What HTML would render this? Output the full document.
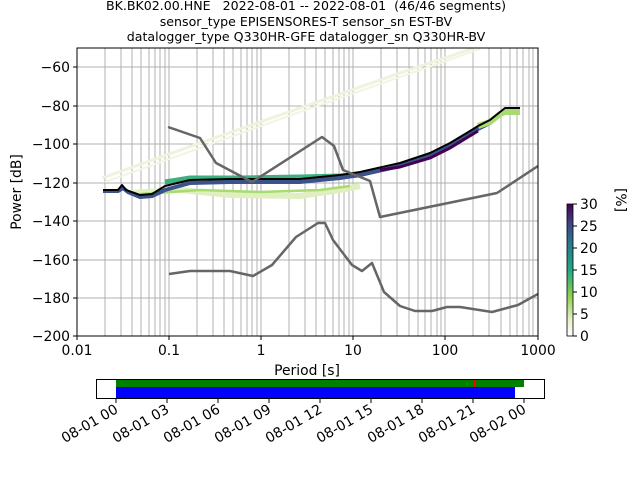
<!DOCTYPE html>
<html><head><meta charset="utf-8"><style>
html,body{margin:0;padding:0;background:#fff;}
svg{display:block;font-family:"DejaVu Sans","Liberation Sans",sans-serif;}
.t{white-space:pre;}
</style></head><body>
<svg width="640" height="480" viewBox="0 0 640 480" xmlns="http://www.w3.org/2000/svg">
<defs>
<linearGradient id="vir" x1="0" y1="1" x2="0" y2="0">
<stop offset="0" stop-color="#ffffff"/>
<stop offset="0.12" stop-color="#e8f0c8"/>
<stop offset="0.3" stop-color="#90d050"/>
<stop offset="0.5" stop-color="#22a884"/>
<stop offset="0.7" stop-color="#2a788e"/>
<stop offset="0.85" stop-color="#414487"/>
<stop offset="1" stop-color="#440154"/>
</linearGradient>
<clipPath id="pc"><rect x="77" y="48" width="461" height="288"/></clipPath>
</defs>
<g font-size="12.6" fill="#000" text-anchor="middle">
<text class="t" x="306" y="10" xml:space="preserve">BK.BK02.00.HNE   2022-08-01 -- 2022-08-01  (46/46 segments)</text>
<text x="306" y="26">sensor_type EPISENSORES-T sensor_sn EST-BV</text>
<text x="306" y="41">datalogger_type Q330HR-GFE datalogger_sn Q330HR-BV</text>
</g>
<g stroke="#b0b0b0" stroke-width="1">
<line x1="105" y1="48" x2="105" y2="336"/><line x1="121" y1="48" x2="121" y2="336"/><line x1="132" y1="48" x2="132" y2="336"/><line x1="141" y1="48" x2="141" y2="336"/><line x1="149" y1="48" x2="149" y2="336"/><line x1="155" y1="48" x2="155" y2="336"/><line x1="160" y1="48" x2="160" y2="336"/><line x1="165" y1="48" x2="165" y2="336"/><line x1="169" y1="48" x2="169" y2="336"/>
<line x1="197" y1="48" x2="197" y2="336"/><line x1="213" y1="48" x2="213" y2="336"/><line x1="224" y1="48" x2="224" y2="336"/><line x1="233" y1="48" x2="233" y2="336"/><line x1="241" y1="48" x2="241" y2="336"/><line x1="247" y1="48" x2="247" y2="336"/><line x1="252" y1="48" x2="252" y2="336"/><line x1="257" y1="48" x2="257" y2="336"/><line x1="261" y1="48" x2="261" y2="336"/>
<line x1="289" y1="48" x2="289" y2="336"/><line x1="305" y1="48" x2="305" y2="336"/><line x1="316" y1="48" x2="316" y2="336"/><line x1="325" y1="48" x2="325" y2="336"/><line x1="333" y1="48" x2="333" y2="336"/><line x1="339" y1="48" x2="339" y2="336"/><line x1="344" y1="48" x2="344" y2="336"/><line x1="349" y1="48" x2="349" y2="336"/><line x1="353" y1="48" x2="353" y2="336"/>
<line x1="381" y1="48" x2="381" y2="336"/><line x1="397" y1="48" x2="397" y2="336"/><line x1="409" y1="48" x2="409" y2="336"/><line x1="418" y1="48" x2="418" y2="336"/><line x1="425" y1="48" x2="425" y2="336"/><line x1="431" y1="48" x2="431" y2="336"/><line x1="437" y1="48" x2="437" y2="336"/><line x1="441" y1="48" x2="441" y2="336"/><line x1="445" y1="48" x2="445" y2="336"/>
<line x1="473" y1="48" x2="473" y2="336"/><line x1="489" y1="48" x2="489" y2="336"/><line x1="501" y1="48" x2="501" y2="336"/><line x1="510" y1="48" x2="510" y2="336"/><line x1="517" y1="48" x2="517" y2="336"/><line x1="523" y1="48" x2="523" y2="336"/><line x1="529" y1="48" x2="529" y2="336"/><line x1="533" y1="48" x2="533" y2="336"/>
<line x1="77" y1="67" x2="538" y2="67"/><line x1="77" y1="106" x2="538" y2="106"/><line x1="77" y1="144" x2="538" y2="144"/><line x1="77" y1="183" x2="538" y2="183"/><line x1="77" y1="221" x2="538" y2="221"/><line x1="77" y1="260" x2="538" y2="260"/><line x1="77" y1="298" x2="538" y2="298"/>
</g>
<g clip-path="url(#pc)" fill="none" stroke-linejoin="round">
<polyline points="102,178 200,143 300,108 400,73 474,48" stroke="#edf3dc" stroke-width="3"/>
<polyline points="105,182 200,148 300,112 400,77 480,49" stroke="#f1f6e4" stroke-width="2"/>
<polyline points="130,193 180,190 230,195 300,196 340,190 360,186" stroke="#e0efc0" stroke-width="6"/>
<polyline points="140,194 200,190 260,192 320,190 350,186" stroke="#a8dc70" stroke-width="2.5"/>
<polyline points="165,182 190,178 240,178 300,177 340,176 360,175" stroke="#3cb080" stroke-width="5"/>
<polyline points="103,191 118,191 123,188 128,192 140,197 152,196 165,190 190,183 230,182 300,182 340,178 360,175 400,166 430,156 450,146 478,129 490,123 500,115 505,111 520,111" stroke="#3b528b" stroke-width="4"/>
<polyline points="380,170 400,167 430,158 450,148 478,131" stroke="#440154" stroke-width="3"/>
<polyline points="478,126 490,122 500,114 505,112 520,112" stroke="#a8dc70" stroke-width="6"/>
<polyline points="103,190 118,190 122,185 126,190 140,195 152,194 165,186 190,180 230,179 300,179 340,175 360,172 400,163 430,153 450,143 470,131 478,126 490,120 500,112 505,108 520,108" stroke="#000" stroke-width="2"/>
<polyline points="168,127 200,138 216,163 252,182 322,137 334,146 343,170 370,181 380,217 497,193 538,166" stroke="#666" stroke-width="2.5"/>
<polyline points="169,274 190,271 230,271 253,276 272,265 296,237 318,223 325,223 333,240 352,265 362,271 372,263 384,292 400,306 415,311 432,311 447,307 460,307 492,312 518,305 538,294" stroke="#666" stroke-width="2.5"/>
</g>
<rect x="77" y="48" width="461" height="288" fill="none" stroke="#000" stroke-width="1"/>
<g stroke="#000"><line x1="73" y1="67" x2="77" y2="67"/><line x1="73" y1="106" x2="77" y2="106"/><line x1="73" y1="144" x2="77" y2="144"/><line x1="73" y1="183" x2="77" y2="183"/><line x1="73" y1="221" x2="77" y2="221"/><line x1="73" y1="260" x2="77" y2="260"/><line x1="73" y1="298" x2="77" y2="298"/><line x1="73" y1="336" x2="77" y2="336"/>
<line x1="77" y1="336" x2="77" y2="340"/><line x1="169" y1="336" x2="169" y2="340"/><line x1="261" y1="336" x2="261" y2="340"/><line x1="353" y1="336" x2="353" y2="340"/><line x1="445" y1="336" x2="445" y2="340"/><line x1="538" y1="336" x2="538" y2="340"/></g>
<g font-size="13.9" text-anchor="end">
<text x="70" y="72">−60</text><text x="70" y="111">−80</text><text x="70" y="149">−100</text><text x="70" y="188">−120</text><text x="70" y="226">−140</text><text x="70" y="265">−160</text><text x="70" y="303">−180</text><text x="70" y="341">−200</text>
</g>
<g font-size="13.9" text-anchor="middle">
<text x="77" y="355">0.01</text><text x="169" y="355">0.1</text><text x="261" y="355">1</text><text x="353" y="355">10</text><text x="445" y="355">100</text><text x="538" y="355">1000</text>
<text x="307" y="375">Period [s]</text>
<text transform="translate(21,192) rotate(-90)">Power [dB]</text>
</g>
<rect x="567" y="204" width="6" height="132" fill="url(#vir)" stroke="#000" stroke-width="0.8"/>
<g stroke="#000"><line x1="573" y1="204" x2="577" y2="204"/><line x1="573" y1="226" x2="577" y2="226"/><line x1="573" y1="248" x2="577" y2="248"/><line x1="573" y1="270" x2="577" y2="270"/><line x1="573" y1="292" x2="577" y2="292"/><line x1="573" y1="314" x2="577" y2="314"/><line x1="573" y1="336" x2="577" y2="336"/></g>
<g font-size="13.9"><text x="580" y="209">30</text><text x="580" y="231">25</text><text x="580" y="253">20</text><text x="580" y="275">15</text><text x="580" y="297">10</text><text x="580" y="319">5</text><text x="580" y="341">0</text>
<text transform="translate(616,188) rotate(90)">[%]</text></g>
<rect x="96.5" y="379.5" width="448" height="19" fill="#fff" stroke="#000"/>
<rect x="116" y="380" width="408" height="7" fill="#008000"/>
<rect x="473" y="380" width="2" height="7" fill="#ff0000"/>
<rect x="116" y="387" width="399" height="11" fill="#0000ff"/>
<g stroke="#000"><line x1="116" y1="399" x2="116" y2="403"/><line x1="167" y1="399" x2="167" y2="403"/><line x1="218" y1="399" x2="218" y2="403"/><line x1="269" y1="399" x2="269" y2="403"/><line x1="320" y1="399" x2="320" y2="403"/><line x1="371" y1="399" x2="371" y2="403"/><line x1="422" y1="399" x2="422" y2="403"/><line x1="473" y1="399" x2="473" y2="403"/><line x1="524" y1="399" x2="524" y2="403"/></g>
<g font-size="13.9" text-anchor="end">
<text transform="translate(119,412) rotate(-30)">08-01 00</text>
<text transform="translate(170,412) rotate(-30)">08-01 03</text>
<text transform="translate(221,412) rotate(-30)">08-01 06</text>
<text transform="translate(272,412) rotate(-30)">08-01 09</text>
<text transform="translate(323,412) rotate(-30)">08-01 12</text>
<text transform="translate(374,412) rotate(-30)">08-01 15</text>
<text transform="translate(425,412) rotate(-30)">08-01 18</text>
<text transform="translate(476,412) rotate(-30)">08-01 21</text>
<text transform="translate(527,412) rotate(-30)">08-02 00</text>
</g>
</svg>
</body></html>
